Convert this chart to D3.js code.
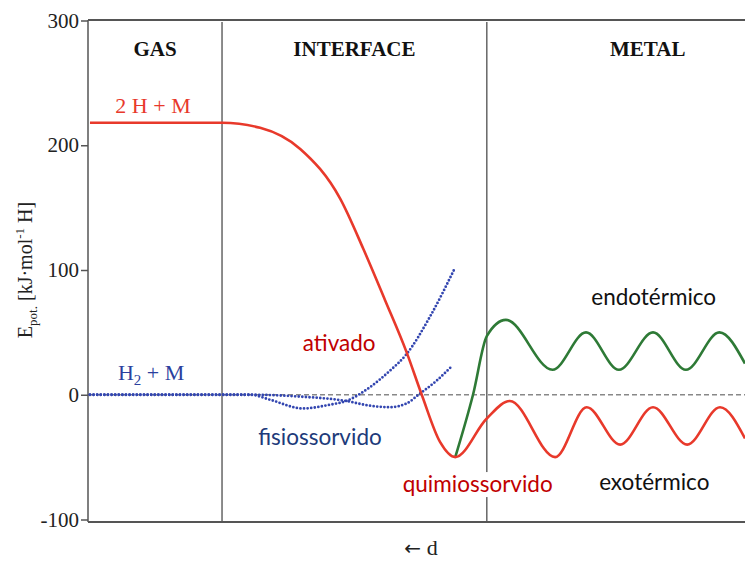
<!DOCTYPE html>
<html>
<head>
<meta charset="utf-8">
<script src="https://cdn.jsdelivr.net/npm/d3@7"></script>
<style>
    body { margin: 0; background: #fff; }
    svg { display: block; }
    .serif { font-family: "Liberation Serif", "DejaVu Serif", serif; }
    .sans { font-family: "Lato", "Open Sans", sans-serif; }
    .axis path, .axis line { stroke: #555; stroke-width: 1.5; }
    .axis text { font-family: "Liberation Serif", serif; font-size: 21px; fill: #222; }
</style>
</head>
<body>
<svg id="grafico" width="745" height="565"></svg>
<script>
/* ------------------------- DADOS ------------------------- */

// distancia d em unidades arbitrarias (0 = gas, 100 = dentro do metal)
const limites = [0, 20.4, 60.7, 100]
const regioes = ['GAS', 'INTERFACE', 'METAL']
const ticksY = [300, 200, 100, 0, -100]

// 2 H + M  (atomico, vermelho)
const atomicoD = [0.3, 20.4, 26.2, 32.3, 38.4, 41.9, 45.2, 48.5, 50.8, 53.6, 55.9, 60.7, 64.2, 71.1, 75.9, 81.0, 86.0, 91.2, 96.2, 100]
const atomicoE = [218, 218, 214, 197, 157, 117, 76, 34, 0, -38, -50, -19, -5, -50, -10, -40, -10, -40, -10, -35]

// ramo endotermico (verde), parte do minimo quimiossorvido
const endoD = [55.9, 58.6, 60.7, 63.6, 70.7, 75.8, 80.8, 86.0, 91.0, 96.1, 100]
const endoE = [-50, 0, 47, 60, 20, 50, 20, 50, 20, 50, 25]

// H2 + M, caminho ativado (pontilhado, sobe ate 100)
const ativadoD = [0.3, 24.7, 27.7, 32.7, 36.8, 39.3, 42.9, 45.9, 48.4, 52.1, 55.7]
const ativadoE = [0, 0, -4, -11, -8, -5, 6, 19, 32, 63, 100]

// H2 + M, caminho fisiossorvido (pontilhado)
const fisioD = [0.3, 24.7, 32.3, 39.3, 42.6, 45.9, 48.5, 50.3, 53.0, 55.5]
const fisioE = [0, 0, -1.5, -5, -8.5, -10, -7, 0, 11, 23.5]

/* ------------------------- ESCALAS ------------------------- */

let svg = d3.select('#grafico')

let x = d3.scaleLinear().domain([0, 100]).range([88, 745])
let y = d3.scaleLinear().domain([-100, 300]).range([519.5, 20.5])
const yBase = 522

let linha = d3.line()
    .x(function (d) { return x(d[0]) })
    .y(function (d) { return y(d[1]) })
    .curve(d3.curveMonotoneX)

function pares(ds, es) { return ds.map(function (d, i) { return [d, es[i]] }) }

/* ------------------------- MOLDURA ------------------------- */

// linhas verticais entre as regioes
svg.append('g')
    .selectAll('line')
    .data(limites.slice(1, 3))
    .enter().append('line')
        .attr('x1', function (d) { return x(d) })
        .attr('x2', function (d) { return x(d) })
        .attr('y1', 22)
        .attr('y2', yBase)
        .attr('stroke', '#666')
        .attr('stroke-width', 1.5)

// linha do zero tracejada
svg.append('line')
    .attr('x1', x(0)).attr('x2', x(100))
    .attr('y1', y(0)).attr('y2', y(0))
    .attr('stroke', '#888')
    .attr('stroke-width', 1.3)
    .attr('stroke-dasharray', '5,3')

// topo e base
svg.append('line')
    .attr('x1', x(0)).attr('x2', x(100))
    .attr('y1', 20).attr('y2', 20)
    .attr('stroke', '#555').attr('stroke-width', 2)
svg.append('line')
    .attr('x1', x(0)).attr('x2', x(100))
    .attr('y1', yBase).attr('y2', yBase)
    .attr('stroke', '#555').attr('stroke-width', 2)

let eixoY = svg.append('g')
    .attr('class', 'axis')
    .attr('transform', 'translate(' + x(0) + ',0)')
    .call(d3.axisLeft(y).tickValues(ticksY).tickSize(7).tickSizeOuter(0).tickPadding(2)
        .tickFormat(function (d) { return String(d) }))   // hifen simples no -100
eixoY.select('.domain').attr('d', 'M0,20V' + yBase)

/* ------------------------- CURVAS ------------------------- */

svg.append('path')
    .datum(pares(ativadoD, ativadoE))
    .attr('d', linha)
    .attr('fill', 'none')
    .attr('stroke', '#3346b0')
    .attr('stroke-width', 2.8)
    .attr('stroke-linecap', 'round')
    .attr('stroke-dasharray', '0,3.6')

svg.append('path')
    .datum(pares(fisioD, fisioE))
    .attr('d', linha)
    .attr('fill', 'none')
    .attr('stroke', '#3346b0')
    .attr('stroke-width', 2.8)
    .attr('stroke-linecap', 'round')
    .attr('stroke-dasharray', '0,3.6')

svg.append('path')
    .datum(pares(endoD, endoE))
    .attr('d', linha)
    .attr('fill', 'none')
    .attr('stroke', '#2e7a36')
    .attr('stroke-width', 2.6)

svg.append('path')
    .datum(pares(atomicoD, atomicoE))
    .attr('d', linha)
    .attr('fill', 'none')
    .attr('stroke', '#e8392b')
    .attr('stroke-width', 2.6)

/* ------------------------- TEXTOS ------------------------- */

let meiosRegioes = [(limites[0] + limites[1]) / 2, (limites[1] + limites[2]) / 2, 85.2]
svg.append('g')
    .selectAll('text')
    .data(regioes)
    .enter().append('text')
        .attr('class', 'serif')
        .attr('x', function (d, i) { return x(meiosRegioes[i]) })
        .attr('y', 56)
        .attr('text-anchor', 'middle')
        .attr('font-size', 21)
        .attr('font-weight', 'bold')
        .attr('fill', '#111')
        .text(function (d) { return d })

svg.append('text')
    .attr('class', 'serif')
    .attr('x', x(9.9)).attr('y', y(226))
    .attr('text-anchor', 'middle')
    .attr('font-size', 22)
    .attr('fill', '#e8392b')
    .text('2 H + M')

let h2 = svg.append('text')
    .attr('class', 'serif')
    .attr('x', x(9.6)).attr('y', y(12))
    .attr('text-anchor', 'middle')
    .attr('font-size', 22)
    .attr('fill', '#2b3f9e')
h2.append('tspan').text('H')
h2.append('tspan').attr('font-size', 15).attr('dy', 5).text('2')
h2.append('tspan').attr('dy', -5).text(' + M')

// quimiossorvido tem fundo branco que corta a linha vertical
let quimio = svg.append('text')
    .attr('class', 'sans')
    .attr('x', x(47.9)).attr('y', y(-78))
    .attr('font-size', 22.5)
    .attr('fill', '#c00000')
    .text('quimiossorvido')
let caixa = quimio.node().getBBox()
svg.insert('rect', 'text.sans')
    .attr('x', caixa.x - 2).attr('y', caixa.y + 2)
    .attr('width', caixa.width + 4).attr('height', caixa.height - 2)
    .attr('fill', '#fff')

svg.append('text')
    .attr('class', 'sans')
    .attr('x', x(32.7)).attr('y', y(35))
    .attr('font-size', 22.5)
    .attr('fill', '#c00000')
    .text('ativado')

svg.append('text')
    .attr('class', 'sans')
    .attr('x', x(25.9)).attr('y', y(-40))
    .attr('font-size', 22.5)
    .attr('fill', '#203a7a')
    .text('fisiossorvido')

svg.append('text')
    .attr('class', 'sans')
    .attr('x', x(76.6)).attr('y', y(72))
    .attr('font-size', 22.5)
    .attr('fill', '#111')
    .text('endotérmico')

svg.append('text')
    .attr('class', 'sans')
    .attr('x', x(77.8)).attr('y', y(-76))
    .attr('font-size', 22.5)
    .attr('fill', '#111')
    .text('exotérmico')

// rotulos dos eixos
let rotuloX = svg.append('text')
    .attr('class', 'serif')
    .attr('x', 421).attr('y', 555)
    .attr('text-anchor', 'middle')
    .attr('font-size', 22)
    .attr('fill', '#222')
rotuloX.append('tspan').attr('font-family', 'DejaVu Sans').attr('font-size', 20).text('←')
rotuloX.append('tspan').text(' d')

let rotuloY = svg.append('text')
    .attr('class', 'serif')
    .attr('transform', 'translate(32,270) rotate(-90)')
    .attr('text-anchor', 'middle')
    .attr('font-size', 20)
    .attr('fill', '#222')
rotuloY.append('tspan').text('E')
rotuloY.append('tspan').attr('font-size', 13).attr('dy', 5).text('pot.')
rotuloY.append('tspan').attr('dy', -5).text(' [kJ·mol')
rotuloY.append('tspan').attr('font-size', 13).attr('dy', -8).text('-1')
rotuloY.append('tspan').attr('dy', 8).text(' H]')
</script>
</body>
</html>
